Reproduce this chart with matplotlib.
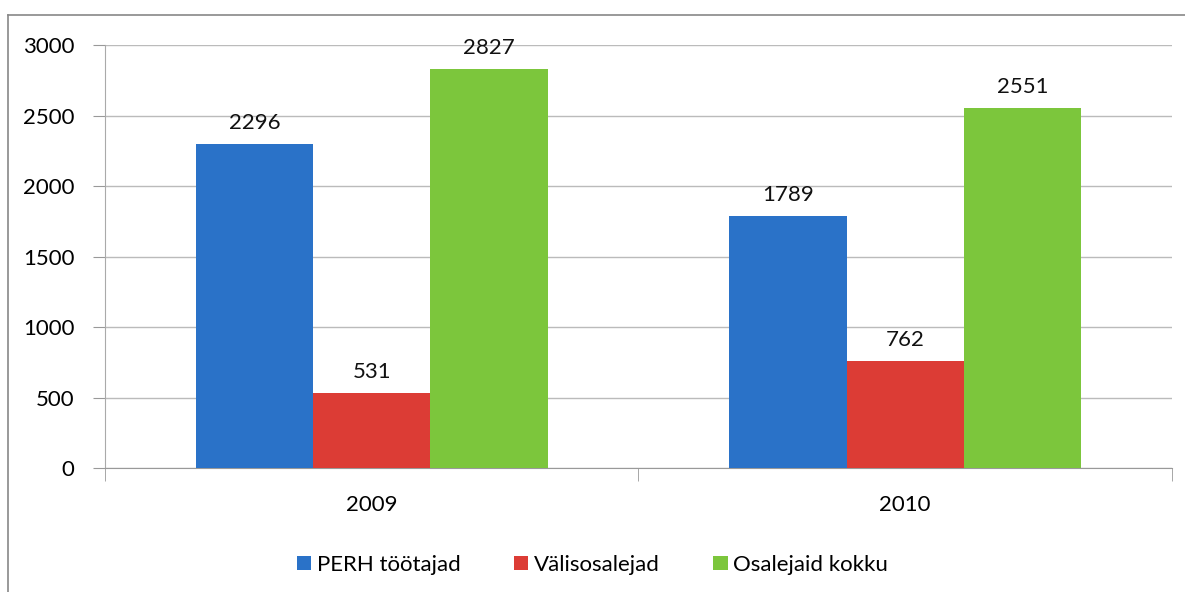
import matplotlib.pyplot as plt
import numpy as np
from matplotlib.lines import Line2D

plt.rcParams['font.family'] = ['Lato', 'DejaVu Sans']

# andmed
aastad = ["2009", "2010"]
seeriad = ["PERH töötajad", "Välisosalejad", "Osalejaid kokku"]
perh = [2296, 1789]
valis = [531, 762]
kokku = [2827, 2551]
varvid = ["#2a72c8", "#dc3c35", "#7cc63c"]

fig = plt.figure(figsize=(11.85, 5.92), dpi=100)
ax = fig.add_axes([0.0886, 0.209, 0.9004, 0.715])

x = np.arange(len(aastad))
laius = 0.22
for i, (nimi, vaartused) in enumerate(zip(seeriad, [perh, valis, kokku])):
    pos = x + (i - 1) * laius
    ax.bar(pos, vaartused, width=laius, color=varvid[i], label=nimi, zorder=3)
    for px, v in zip(pos, vaartused):
        ax.annotate(str(v), (px, v), xytext=(0, 8), textcoords="offset points",
                    ha="center", va="bottom", fontsize=16, color="#111111")

ax.set_xlim(-0.5, 1.5)
ax.set_ylim(0, 3000)
ax.set_yticks(range(0, 3001, 500))
ax.set_xticks(x)
ax.set_xticklabels(aastad)
ax.set_xticks([-0.5, 0.5, 1.5], minor=True)
ax.tick_params(axis="x", which="major", length=0, pad=19, labelsize=16)
ax.tick_params(axis="x", which="minor", length=9, color="#999999")
ax.tick_params(axis="y", length=9, color="#999999", pad=13, labelsize=16)
for lab in ax.get_yticklabels():
    lab.set_horizontalalignment("right")

ax.grid(axis="y", color="#bbbbbb", linewidth=1, zorder=0)
for s in ["top", "right"]:
    ax.spines[s].set_visible(False)
ax.spines["left"].set_color("#aaaaaa")
ax.spines["bottom"].set_color("#999999")

fig.legend(loc="center", bbox_to_anchor=(0.5, 0.046), ncol=3, frameon=False,
           fontsize=16, handlelength=0.65, handleheight=0.65, handletextpad=0.25,
           columnspacing=2.4)

# välimine raam
fig.add_artist(Line2D([8 / 1185, 8 / 1185], [0, 1 - 15 / 592], transform=fig.transFigure,
                      color="#888888", linewidth=1.2))
fig.add_artist(Line2D([8 / 1185, 1], [1 - 15 / 592, 1 - 15 / 592], transform=fig.transFigure,
                      color="#888888", linewidth=1.2))

fig.savefig("out.png", dpi=100)
